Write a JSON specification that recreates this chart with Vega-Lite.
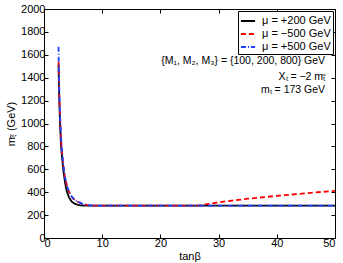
{
  "$schema": "https://vega.github.io/schema/vega-lite/v6.json",
  "width": 291,
  "height": 229,
  "autosize": {"type": "none"},
  "padding": {"left": 44, "top": 9, "right": 8, "bottom": 25},
  "background": "white",
  "config": {
    "font": "Liberation Sans",
    "view": {"stroke": "black", "strokeWidth": 1},
    "axis": {"grid": false, "domainColor": "black", "tickColor": "black", "labelColor": "black", "titleColor": "black", "labelFontSize": 11, "titleFontSize": 11, "titleFontWeight": "normal", "tickSize": -4, "labelPadding": 3, "format": "d"}
  },
  "datasets": {
    "curves": [
      {"s": "μ = +200 GeV", "tanb": 2.5, "m": 1510},
      {"s": "μ = +200 GeV", "tanb": 2.6, "m": 1250},
      {"s": "μ = +200 GeV", "tanb": 2.7, "m": 1080},
      {"s": "μ = +200 GeV", "tanb": 2.8, "m": 950},
      {"s": "μ = +200 GeV", "tanb": 2.9, "m": 830},
      {"s": "μ = +200 GeV", "tanb": 3.0, "m": 760},
      {"s": "μ = +200 GeV", "tanb": 3.3, "m": 600},
      {"s": "μ = +200 GeV", "tanb": 3.6, "m": 490},
      {"s": "μ = +200 GeV", "tanb": 3.9, "m": 410},
      {"s": "μ = +200 GeV", "tanb": 4.3, "m": 355},
      {"s": "μ = +200 GeV", "tanb": 4.75, "m": 318},
      {"s": "μ = +200 GeV", "tanb": 5.3, "m": 298},
      {"s": "μ = +200 GeV", "tanb": 6, "m": 287},
      {"s": "μ = +200 GeV", "tanb": 7, "m": 282},
      {"s": "μ = +200 GeV", "tanb": 20, "m": 282},
      {"s": "μ = +200 GeV", "tanb": 35, "m": 282},
      {"s": "μ = +200 GeV", "tanb": 50, "m": 282},
      {"s": "μ = −500 GeV", "tanb": 2.5, "m": 1540},
      {"s": "μ = −500 GeV", "tanb": 2.6, "m": 1300},
      {"s": "μ = −500 GeV", "tanb": 2.8, "m": 1000},
      {"s": "μ = −500 GeV", "tanb": 3.0, "m": 800},
      {"s": "μ = −500 GeV", "tanb": 3.3, "m": 640},
      {"s": "μ = −500 GeV", "tanb": 3.6, "m": 530},
      {"s": "μ = −500 GeV", "tanb": 4.0, "m": 440},
      {"s": "μ = −500 GeV", "tanb": 4.5, "m": 380},
      {"s": "μ = −500 GeV", "tanb": 5.0, "m": 345},
      {"s": "μ = −500 GeV", "tanb": 5.5, "m": 325},
      {"s": "μ = −500 GeV", "tanb": 6.0, "m": 312},
      {"s": "μ = −500 GeV", "tanb": 6.5, "m": 300},
      {"s": "μ = −500 GeV", "tanb": 7.0, "m": 292},
      {"s": "μ = −500 GeV", "tanb": 7.5, "m": 287},
      {"s": "μ = −500 GeV", "tanb": 8.0, "m": 284},
      {"s": "μ = −500 GeV", "tanb": 9.0, "m": 282},
      {"s": "μ = −500 GeV", "tanb": 20, "m": 282},
      {"s": "μ = −500 GeV", "tanb": 26.5, "m": 283},
      {"s": "μ = −500 GeV", "tanb": 28, "m": 295},
      {"s": "μ = −500 GeV", "tanb": 30, "m": 312},
      {"s": "μ = −500 GeV", "tanb": 35, "m": 343},
      {"s": "μ = −500 GeV", "tanb": 40, "m": 368},
      {"s": "μ = −500 GeV", "tanb": 45, "m": 391},
      {"s": "μ = −500 GeV", "tanb": 50, "m": 412},
      {"s": "μ = +500 GeV", "tanb": 2.5, "m": 1670},
      {"s": "μ = +500 GeV", "tanb": 2.55, "m": 1450},
      {"s": "μ = +500 GeV", "tanb": 2.7, "m": 1150},
      {"s": "μ = +500 GeV", "tanb": 2.85, "m": 960},
      {"s": "μ = +500 GeV", "tanb": 3.0, "m": 820},
      {"s": "μ = +500 GeV", "tanb": 3.3, "m": 650},
      {"s": "μ = +500 GeV", "tanb": 3.6, "m": 535},
      {"s": "μ = +500 GeV", "tanb": 4.0, "m": 445},
      {"s": "μ = +500 GeV", "tanb": 4.5, "m": 383},
      {"s": "μ = +500 GeV", "tanb": 5.0, "m": 347},
      {"s": "μ = +500 GeV", "tanb": 5.5, "m": 326},
      {"s": "μ = +500 GeV", "tanb": 6.0, "m": 313},
      {"s": "μ = +500 GeV", "tanb": 6.5, "m": 301},
      {"s": "μ = +500 GeV", "tanb": 7.0, "m": 293},
      {"s": "μ = +500 GeV", "tanb": 7.5, "m": 288},
      {"s": "μ = +500 GeV", "tanb": 8.0, "m": 285},
      {"s": "μ = +500 GeV", "tanb": 9.0, "m": 282},
      {"s": "μ = +500 GeV", "tanb": 30, "m": 282},
      {"s": "μ = +500 GeV", "tanb": 50, "m": 282}
    ],
    "notes": [
      {"tanb": 48.3, "m": 1546, "label": "{M₁, M₂, M₃} = {100, 200, 800} GeV"},
      {"tanb": 48.3, "m": 1406, "label": "Xₜ = −2 mₜ̃"},
      {"tanb": 48.3, "m": 1293, "label": "mₜ = 173 GeV"}
    ]
  },
  "layer": [
    {
      "data": {"name": "curves"},
      "mark": {"type": "line", "strokeWidth": 1.8, "clip": true},
      "encoding": {
        "x": {"field": "tanb", "type": "quantitative", "scale": {"domain": [0, 50], "nice": false}, "axis": {"title": "tanβ", "values": [0, 10, 20, 30, 40, 50], "titlePadding": 2}},
        "y": {"field": "m", "type": "quantitative", "scale": {"domain": [0, 2000], "nice": false}, "axis": {"title": "mₜ̃ (GeV)", "values": [0, 200, 400, 600, 800, 1000, 1200, 1400, 1600, 1800, 2000], "titlePadding": 4}},
        "color": {"field": "s", "type": "nominal", "sort": null, "scale": {"domain": ["μ = +200 GeV", "μ = −500 GeV", "μ = +500 GeV"], "range": ["#000000", "#ff0000", "#2040ff"]},
          "legend": {"title": null, "orient": "none", "legendX": 194, "legendY": 2, "strokeColor": "black", "fillColor": "white", "padding": 2, "symbolType": "stroke", "symbolSize": 200, "symbolStrokeWidth": 1.8, "labelFontSize": 11, "rowPadding": 0, "labelOffset": 6, "labelColor": "black"}},
        "strokeDash": {"field": "s", "type": "nominal", "sort": null, "scale": {"domain": ["μ = +200 GeV", "μ = −500 GeV", "μ = +500 GeV"], "range": [[1, 0], [5, 3], [5, 2, 1, 2]]},
          "legend": {"title": null, "orient": "none", "legendX": 194, "legendY": 2, "strokeColor": "black", "fillColor": "white", "padding": 2, "symbolType": "stroke", "symbolSize": 200, "symbolStrokeWidth": 1.8, "labelFontSize": 11, "rowPadding": 0, "labelOffset": 6, "labelColor": "black"}},
        "order": {"field": "tanb", "type": "quantitative"}
      }
    },
    {
      "data": {"name": "notes"},
      "mark": {"type": "text", "align": "right", "baseline": "middle", "fontSize": 10.5, "color": "black"},
      "encoding": {
        "x": {"field": "tanb", "type": "quantitative", "scale": {"domain": [0, 50], "nice": false}, "axis": {"orient": "top", "title": null, "labels": false, "values": [0, 10, 20, 30, 40, 50]}},
        "y": {"field": "m", "type": "quantitative", "scale": {"domain": [0, 2000], "nice": false}, "axis": {"orient": "right", "title": null, "labels": false, "values": [0, 200, 400, 600, 800, 1000, 1200, 1400, 1600, 1800, 2000]}},
        "text": {"field": "label"}
      }
    }
  ],
  "resolve": {"axis": {"x": "independent", "y": "independent"}}
}
